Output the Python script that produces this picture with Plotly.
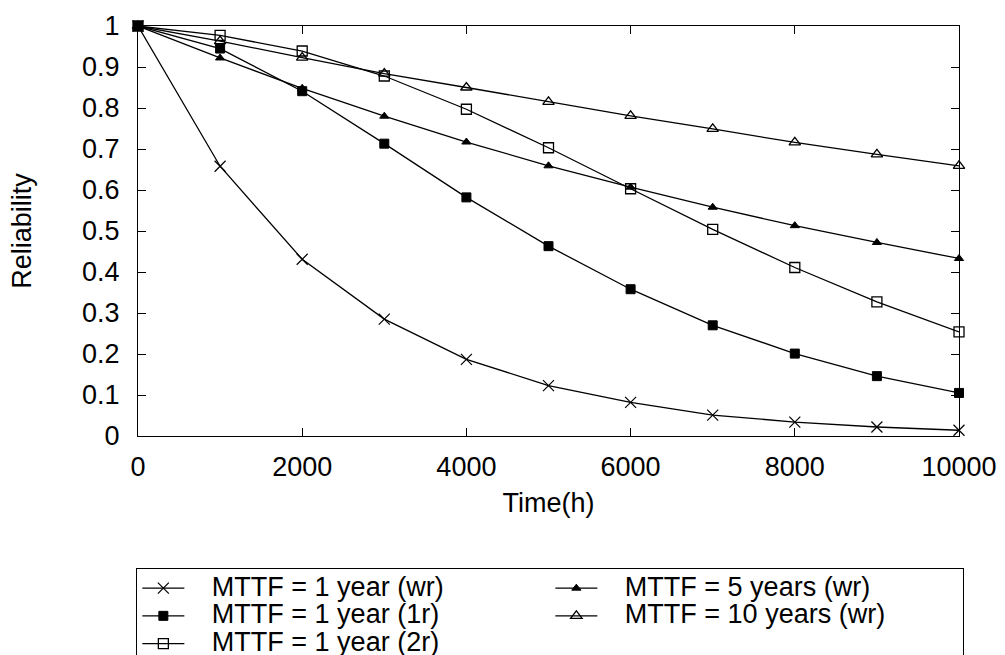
import plotly.graph_objects as go

time_h = [0, 1000, 2000, 3000, 4000, 5000, 6000, 7000, 8000, 9000, 10000]

mttf1_wr = [1.0, 0.658, 0.431, 0.285, 0.187, 0.123, 0.082, 0.051, 0.034, 0.022, 0.014]
mttf1_1r = [1.0, 0.945, 0.841, 0.713, 0.582, 0.463, 0.358, 0.270, 0.201, 0.146, 0.105]
mttf1_2r = [1.0, 0.977, 0.939, 0.878, 0.797, 0.703, 0.603, 0.504, 0.411, 0.327, 0.254]
mttf5_wr = [1.0, 0.922, 0.848, 0.780, 0.717, 0.659, 0.607, 0.558, 0.513, 0.472, 0.433]
mttf10_wr = [1.0, 0.963, 0.923, 0.884, 0.850, 0.815, 0.781, 0.749, 0.716, 0.687, 0.659]

x_ticks = [0, 2000, 4000, 6000, 8000, 10000]

FONT = "Liberation Sans, Arial, Helvetica, sans-serif"
FS = 27

def lab(t):
    return "<span style='font-size:27px'>&nbsp;&nbsp;&nbsp;" + t + "</span>"

series = [
    ("MTTF = 1 year (wr)", mttf1_wr, "x-thin-open", 11, 1.2),
    ("MTTF = 5 years (wr)", mttf5_wr, "triangle-up", 8, 1),
    ("MTTF = 1 year (1r)", mttf1_1r, "square", 9, 1),
    ("MTTF = 10 years (wr)", mttf10_wr, "triangle-up-open", 10, 1.3),
    ("MTTF = 1 year (2r)", mttf1_2r, "square-open", 10, 1.3),
]

fig = go.Figure()
for name, ys, sym, size, lw in series:
    fig.add_trace(go.Scatter(
        x=time_h, y=ys, mode="lines+markers", name=lab(name),
        line=dict(color="black", width=1.3),
        marker=dict(symbol=sym, size=size, color="black",
                    line=dict(color="black", width=lw)),
        cliponaxis=False,
    ))

fig.update_layout(
    width=1005, height=655,
    margin=dict(l=138, r=46, t=26, b=219, autoexpand=False),
    paper_bgcolor="white", plot_bgcolor="white",
    font=dict(family=FONT, size=FS, color="black"),
    showlegend=True,
    legend=dict(
        orientation="h", x=-0.002, xanchor="left", y=-0.3227, yanchor="top",
        bordercolor="black", borderwidth=1, bgcolor="white",
        font=dict(family=FONT, size=19, color="black"),
        entrywidth=356, entrywidthmode="pixels",
        itemwidth=42, tracegroupgap=0,
    ),
)
fig.update_xaxes(
    range=[0, 10000], tickvals=x_ticks, ticktext=[str(v) for v in x_ticks],
    ticks="inside", ticklen=8, tickcolor="black", mirror="allticks",
    showline=True, linecolor="black", linewidth=1.3, showgrid=False, zeroline=False,
    title=dict(text="Time(h)", standoff=12, font=dict(size=FS)),
    ticklabelstandoff=6, automargin=False,
)
fig.update_yaxes(
    range=[0, 1], dtick=0.1, tick0=0,
    ticks="inside", ticklen=8, tickcolor="black", mirror="allticks",
    showline=True, linecolor="black", linewidth=1.3, showgrid=False, zeroline=False,
    title=dict(text="Reliability", standoff=42, font=dict(size=FS)),
    ticklabelstandoff=12, automargin=False,
)

fig.write_html("out.html")
